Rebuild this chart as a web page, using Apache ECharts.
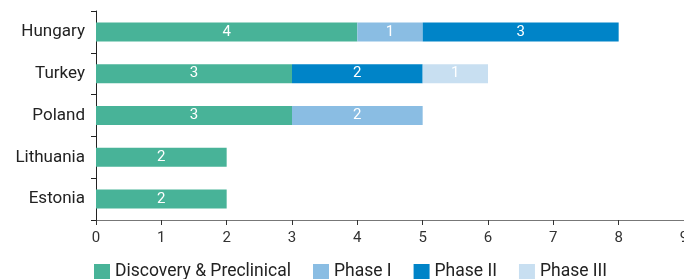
<html>
<head>
<meta charset="UTF-8">
<script src="https://cdn.jsdelivr.net/npm/echarts@6/dist/echarts.min.js"></script>
</head>
<body style="margin:0">
<div id="chart" style="width:684px;height:279px"></div>
<script>
    var countries = ['Estonia', 'Lithuania', 'Poland', 'Turkey', 'Hungary'];
    var discovery = [2, 2, 3, 3, 4];
    var phase1 = [null, null, 2, null, 1];
    var phase2 = [null, null, null, 2, 3];
    var phase3 = [null, null, null, 1, null];
    var xTicks = [0, 1, 2, 3, 4, 5, 6, 7, 8, 9];

    var chart = echarts.init(document.getElementById('chart'));

    var font = 'Roboto';
    function bar(name, data, color) {
        return {
            name: name,
            type: 'bar',
            stack: 'total',
            barWidth: 19,
            data: data,
            itemStyle: {color: color},
            label: {
                show: true,
                position: 'inside',
                color: '#fff',
                fontFamily: font,
                fontSize: 15
            }
        };
    }

    chart.setOption({
        animation: false,
        textStyle: {fontFamily: font},
        grid: {left: 96, right: 0, top: 11, bottom: 59, containLabel: false, outerBoundsMode: 'none'},
        legend: {
            left: 89,
            top: 258,
            itemWidth: 16,
            itemHeight: 16,
            itemGap: 22,
            icon: 'rect',
            textStyle: {fontSize: 17.5, color: '#222', fontFamily: font},
            data: ['Discovery & Preclinical', 'Phase I', 'Phase II', 'Phase III']
        },
        xAxis: {
            type: 'value',
            min: xTicks[0],
            max: xTicks[xTicks.length - 1],
            interval: 1,
            splitLine: {show: false},
            axisLine: {show: true, lineStyle: {color: '#777'}},
            axisTick: {show: true, length: 5, lineStyle: {color: '#333'}},
            axisLabel: {color: '#333', fontSize: 15, margin: 11}
        },
        yAxis: {
            type: 'category',
            data: countries,
            axisLine: {lineStyle: {color: '#222'}},
            axisTick: {show: true, length: 5, lineStyle: {color: '#222'}},
            axisLabel: {color: '#222', fontSize: 17, margin: 11, padding: [4, 0, 0, 0]}
        },
        series: [
            bar('Discovery & Preclinical', discovery, '#48B398'),
            bar('Phase I', phase1, '#8ABDE3'),
            bar('Phase II', phase2, '#0084C8'),
            bar('Phase III', phase3, '#C8DFF1')
        ]
    });
</script>
</body>
</html>
